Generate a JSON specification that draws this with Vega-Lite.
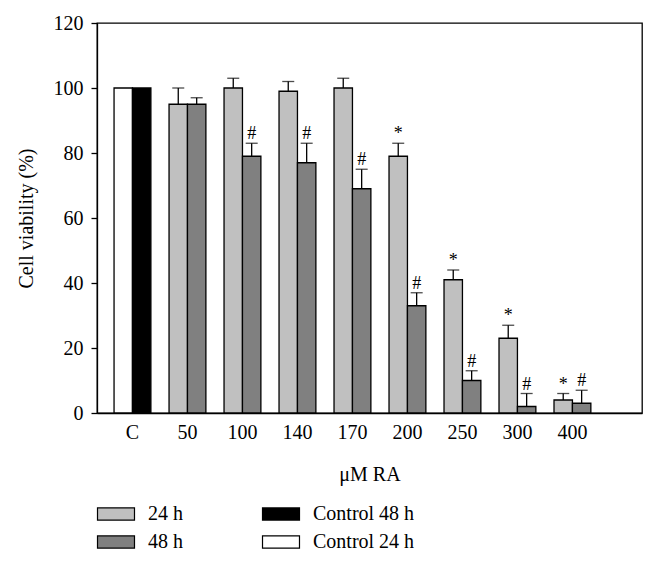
{
  "$schema": "https://vega.github.io/schema/vega-lite/v6.json",
  "autosize": "none",
  "width": 545,
  "height": 390,
  "padding": {"left": 97, "top": 23, "right": 15, "bottom": 148},
  "background": "white",
  "config": {
    "font": "Liberation Serif",
    "view": {"stroke": "#000", "strokeWidth": 1.3},
    "axis": {"labelFont": "Liberation Serif", "titleFont": "Liberation Serif", "labelColor": "#000", "titleColor": "#000", "titleFontWeight": "normal", "grid": false, "domainColor": "#000", "domainWidth": 1.3, "tickColor": "#000", "tickWidth": 1.3, "labelFontSize": 20, "titleFontSize": 20},
    "legend": {"labelFont": "Liberation Serif", "labelColor": "#000"}
  },
  "data": {
    "values": [
      {"dose": "C", "slot": "a", "series": "Control 24 h", "v": 100, "err": null, "sig": ""},
      {"dose": "C", "slot": "b", "series": "Control 48 h", "v": 100, "err": null, "sig": ""},
      {"dose": "50", "slot": "a", "series": "24 h", "v": 95, "err": 100, "sig": ""},
      {"dose": "50", "slot": "b", "series": "48 h", "v": 95, "err": 97, "sig": ""},
      {"dose": "100", "slot": "a", "series": "24 h", "v": 100, "err": 103, "sig": ""},
      {"dose": "100", "slot": "b", "series": "48 h", "v": 79, "err": 83, "sig": "#"},
      {"dose": "140", "slot": "a", "series": "24 h", "v": 99, "err": 102, "sig": ""},
      {"dose": "140", "slot": "b", "series": "48 h", "v": 77, "err": 83, "sig": "#"},
      {"dose": "170", "slot": "a", "series": "24 h", "v": 100, "err": 103, "sig": ""},
      {"dose": "170", "slot": "b", "series": "48 h", "v": 69, "err": 75, "sig": "#"},
      {"dose": "200", "slot": "a", "series": "24 h", "v": 79, "err": 83, "sig": "*"},
      {"dose": "200", "slot": "b", "series": "48 h", "v": 33, "err": 37, "sig": "#"},
      {"dose": "250", "slot": "a", "series": "24 h", "v": 41, "err": 44, "sig": "*"},
      {"dose": "250", "slot": "b", "series": "48 h", "v": 10, "err": 13, "sig": "#"},
      {"dose": "300", "slot": "a", "series": "24 h", "v": 23, "err": 27, "sig": "*"},
      {"dose": "300", "slot": "b", "series": "48 h", "v": 2, "err": 6, "sig": "#"},
      {"dose": "400", "slot": "a", "series": "24 h", "v": 4, "err": 6, "sig": "*"},
      {"dose": "400", "slot": "b", "series": "48 h", "v": 3, "err": 7, "sig": "#"}
    ]
  },
  "encoding": {
    "x": {
      "field": "dose", "type": "nominal", "sort": null,
      "scale": {"paddingInner": 0.33, "paddingOuter": 0.62, "align": 0.25},
      "axis": {"title": "μM RA", "labelAngle": 0, "ticks": false, "labelPadding": 9, "titleY": 61, "titleBaseline": "middle"}
    },
    "xOffset": {"field": "slot", "type": "nominal", "scale": {"paddingInner": 0, "paddingOuter": 0}}
  },
  "layer": [
    {
      "mark": {"type": "bar", "stroke": "#000", "strokeWidth": 1.3},
      "encoding": {
        "y": {
          "field": "v", "type": "quantitative",
          "scale": {"domain": [0, 120], "nice": false},
          "axis": {"title": "Cell viability (%)", "values": [0, 20, 40, 60, 80, 100, 120], "tickSize": 6, "labelPadding": 8, "titleX": -71, "titleY": 195, "titleBaseline": "middle", "titleAlign": "center"}
        },
        "color": {
          "field": "series", "type": "nominal",
          "scale": {"domain": ["24 h", "Control 48 h", "48 h", "Control 24 h"], "range": ["#c0c0c0", "#000000", "#808080", "#ffffff"]},
          "legend": {
            "title": null, "orient": "none", "legendX": 9, "legendY": 481, "columns": 2, "direction": "horizontal",
            "symbolType": "M-2,-0.66H2V0.66H-2Z", "symbolSize": 342, "symbolStrokeColor": "#000", "symbolStrokeWidth": 1.2,
            "labelFontSize": 20, "labelOffset": 22, "rowPadding": 8, "columnPadding": 77
          }
        }
      }
    },
    {
      "transform": [{"filter": "datum.err != null"}],
      "mark": {"type": "rule", "color": "#000", "strokeWidth": 1.3},
      "encoding": {"y": {"field": "v", "type": "quantitative"}, "y2": {"field": "err"}}
    },
    {
      "transform": [{"filter": "datum.err != null"}],
      "mark": {"type": "tick", "color": "#000", "thickness": 1.3, "size": 12, "orient": "horizontal"},
      "encoding": {"y": {"field": "err", "type": "quantitative"}}
    },
    {
      "transform": [{"filter": "datum.sig != ''"}],
      "mark": {"type": "text", "fontSize": 18, "baseline": "alphabetic", "dy": -4, "color": "#000"},
      "encoding": {"y": {"field": "err", "type": "quantitative"}, "text": {"field": "sig"}}
    }
  ]
}
